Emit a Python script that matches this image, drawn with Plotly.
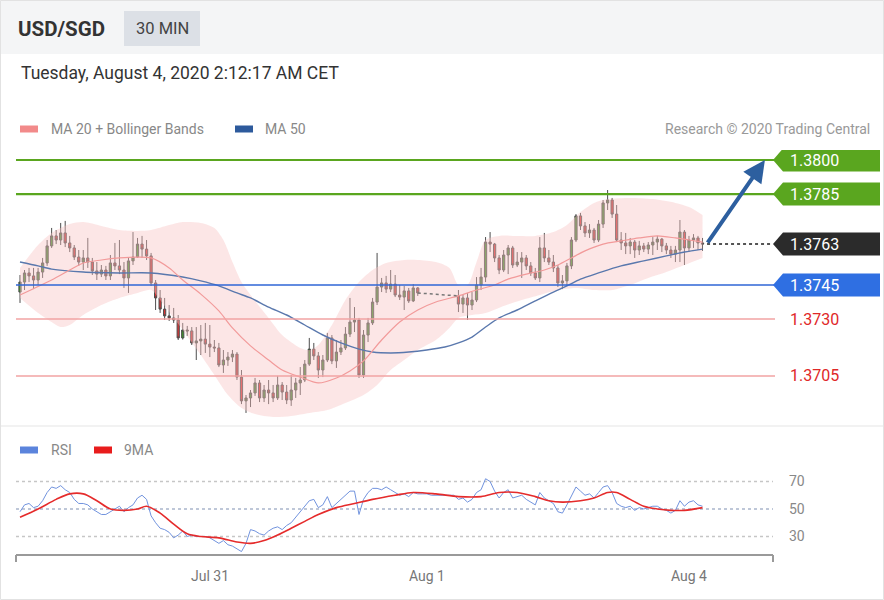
import plotly.graph_objects as go

W, H = 884, 600

# ---------------- data ----------------
session1_index = list(range(0, 89))
session2_index = list(range(97, 152))
candle_index = session1_index + session2_index

opens = [
    1.37419, 1.37463, 1.37503, 1.37490, 1.37472, 1.37507, 1.37547, 1.37622, 1.37666, 1.37648,
    1.37679, 1.37635, 1.37613, 1.37573, 1.37551, 1.37569, 1.37551, 1.37512, 1.37498, 1.37516,
    1.37490, 1.37547, 1.37534, 1.37516, 1.37481, 1.37556, 1.37573, 1.37630, 1.37608, 1.37578,
    1.37459, 1.37393, 1.37344, 1.37314, 1.37305, 1.37296, 1.37217, 1.37252, 1.37248, 1.37195,
    1.37204, 1.37212, 1.37190, 1.37177, 1.37173, 1.37098, 1.37120, 1.37133, 1.37146, 1.37045,
    1.36940, 1.36953, 1.36975, 1.37019, 1.36953, 1.36988, 1.36975, 1.36953, 1.37010, 1.36979,
    1.36944, 1.36988, 1.37019, 1.37032, 1.37102, 1.37168, 1.37138, 1.37076, 1.37120, 1.37217,
    1.37116, 1.37155, 1.37173, 1.37234, 1.37287, 1.37296, 1.37054, 1.37230, 1.37283, 1.37375,
    1.37441, 1.37459, 1.37432, 1.37454, 1.37406, 1.37397, 1.37424, 1.37380, 1.37437,
    1.37402, 1.37366, 1.37393, 1.37362, 1.37384, 1.37450, 1.37485, 1.37639, 1.37630, 1.37569,
    1.37516, 1.37582, 1.37613, 1.37538, 1.37551, 1.37569, 1.37534, 1.37503, 1.37481, 1.37613,
    1.37569, 1.37551, 1.37525, 1.37459, 1.37468, 1.37534, 1.37648, 1.37754, 1.37710, 1.37679,
    1.37692, 1.37648, 1.37718, 1.37811, 1.37824, 1.37762, 1.37648, 1.37635, 1.37622, 1.37639,
    1.37604, 1.37622, 1.37608, 1.37626, 1.37639, 1.37652, 1.37622, 1.37604, 1.37586, 1.37604,
    1.37683, 1.37613, 1.37648, 1.37657, 1.37635,
]
highs = [
    1.37494, 1.37516, 1.37525, 1.37525, 1.37525, 1.37569, 1.37648, 1.37701, 1.37692, 1.37723,
    1.37732, 1.37666, 1.37626, 1.37604, 1.37604, 1.37657, 1.37569, 1.37551, 1.37538, 1.37534,
    1.37582, 1.37635, 1.37648, 1.37551, 1.37573, 1.37683, 1.37657, 1.37666, 1.37648, 1.37591,
    1.37472, 1.37428, 1.37393, 1.37362, 1.37349, 1.37318, 1.37283, 1.37270, 1.37265, 1.37265,
    1.37274, 1.37283, 1.37274, 1.37208, 1.37195, 1.37164, 1.37155, 1.37164, 1.37155, 1.37076,
    1.36966, 1.36988, 1.37041, 1.37032, 1.37010, 1.37032, 1.37010, 1.37050, 1.37023, 1.37010,
    1.37054, 1.37041, 1.37089, 1.37120, 1.37217, 1.37195, 1.37155, 1.37142, 1.37239, 1.37230,
    1.37208, 1.37208, 1.37265, 1.37393, 1.37353, 1.37305, 1.37252, 1.37305, 1.37393, 1.37591,
    1.37481, 1.37490, 1.37516, 1.37494, 1.37450, 1.37446, 1.37437, 1.37454, 1.37441,
    1.37428, 1.37406, 1.37415, 1.37419, 1.37485, 1.37525, 1.37661, 1.37683, 1.37635, 1.37582,
    1.37604, 1.37626, 1.37622, 1.37595, 1.37595, 1.37582, 1.37551, 1.37525, 1.37661, 1.37679,
    1.37604, 1.37582, 1.37538, 1.37494, 1.37547, 1.37661, 1.37762, 1.37767, 1.37727, 1.37718,
    1.37701, 1.37736, 1.37824, 1.37868, 1.37833, 1.37802, 1.37683, 1.37679, 1.37657, 1.37648,
    1.37644, 1.37635, 1.37639, 1.37661, 1.37666, 1.37657, 1.37635, 1.37622, 1.37622, 1.37736,
    1.37692, 1.37666, 1.37674, 1.37666, 1.37657,
]
lows = [
    1.37371, 1.37428, 1.37463, 1.37432, 1.37450, 1.37481, 1.37534, 1.37613, 1.37630, 1.37626,
    1.37617, 1.37595, 1.37560, 1.37534, 1.37516, 1.37525, 1.37494, 1.37472, 1.37485, 1.37472,
    1.37472, 1.37516, 1.37498, 1.37437, 1.37415, 1.37538, 1.37569, 1.37569, 1.37560, 1.37446,
    1.37340, 1.37327, 1.37296, 1.37292, 1.37283, 1.37208, 1.37210, 1.37226, 1.37186, 1.37120,
    1.37142, 1.37151, 1.37133, 1.37155, 1.37089, 1.37063, 1.37094, 1.37111, 1.37032, 1.36926,
    1.36887, 1.36913, 1.36962, 1.36935, 1.36935, 1.36926, 1.36935, 1.36944, 1.36944, 1.36926,
    1.36918, 1.36953, 1.36966, 1.37023, 1.37094, 1.37120, 1.37041, 1.37045, 1.37111, 1.37102,
    1.37085, 1.37142, 1.37164, 1.37221, 1.37243, 1.37041, 1.37041, 1.37199, 1.37274, 1.37362,
    1.37419, 1.37415, 1.37419, 1.37397, 1.37384, 1.37340, 1.37371, 1.37375, 1.37402,
    1.37331, 1.37327, 1.37296, 1.37340, 1.37375, 1.37428, 1.37463, 1.37595, 1.37551, 1.37498,
    1.37507, 1.37498, 1.37525, 1.37529, 1.37481, 1.37516, 1.37490, 1.37472, 1.37463, 1.37551,
    1.37538, 1.37507, 1.37441, 1.37432, 1.37446, 1.37520, 1.37639, 1.37692, 1.37661, 1.37657,
    1.37635, 1.37639, 1.37701, 1.37780, 1.37745, 1.37639, 1.37604, 1.37586, 1.37586, 1.37569,
    1.37582, 1.37595, 1.37586, 1.37582, 1.37604, 1.37595, 1.37586, 1.37569, 1.37551, 1.37551,
    1.37538, 1.37595, 1.37613, 1.37604, 1.37600,
]
closes = [
    1.37463, 1.37503, 1.37490, 1.37472, 1.37507, 1.37547, 1.37622, 1.37666, 1.37648, 1.37679,
    1.37635, 1.37613, 1.37573, 1.37551, 1.37569, 1.37551, 1.37512, 1.37498, 1.37516, 1.37490,
    1.37547, 1.37534, 1.37516, 1.37481, 1.37556, 1.37573, 1.37630, 1.37608, 1.37578, 1.37459,
    1.37393, 1.37344, 1.37314, 1.37305, 1.37296, 1.37217, 1.37252, 1.37248, 1.37195, 1.37204,
    1.37212, 1.37190, 1.37177, 1.37173, 1.37098, 1.37120, 1.37133, 1.37146, 1.37045, 1.36940,
    1.36953, 1.36975, 1.37019, 1.36953, 1.36988, 1.36975, 1.36953, 1.37010, 1.36979, 1.36944,
    1.36988, 1.37019, 1.37032, 1.37102, 1.37168, 1.37138, 1.37076, 1.37120, 1.37217, 1.37116,
    1.37155, 1.37173, 1.37234, 1.37287, 1.37296, 1.37054, 1.37230, 1.37283, 1.37375, 1.37441,
    1.37459, 1.37432, 1.37454, 1.37406, 1.37397, 1.37424, 1.37380, 1.37437, 1.37415,
    1.37366, 1.37393, 1.37362, 1.37384, 1.37450, 1.37485, 1.37639, 1.37630, 1.37569, 1.37516,
    1.37582, 1.37613, 1.37538, 1.37551, 1.37569, 1.37534, 1.37503, 1.37481, 1.37613, 1.37569,
    1.37551, 1.37525, 1.37459, 1.37468, 1.37534, 1.37648, 1.37754, 1.37710, 1.37679, 1.37692,
    1.37648, 1.37718, 1.37811, 1.37824, 1.37762, 1.37648, 1.37635, 1.37622, 1.37639, 1.37604,
    1.37622, 1.37608, 1.37626, 1.37639, 1.37652, 1.37622, 1.37604, 1.37586, 1.37604, 1.37683,
    1.37613, 1.37648, 1.37657, 1.37635, 1.37630,
]

ma20_x = [0, 7, 11, 14, 18, 22, 26, 29, 33, 36, 40, 44, 47, 51, 55, 58, 62, 66, 70, 73, 76, 80,
          84, 88, 92, 97, 101, 105, 108, 112, 116, 119, 122, 125, 129, 133, 137, 141, 145, 148, 151]
ma20 = [1.37406, 1.37472, 1.37516, 1.37547, 1.37560, 1.37569, 1.37573, 1.37569, 1.37525, 1.37472,
        1.37410, 1.37336, 1.37261, 1.37182, 1.37120, 1.37076, 1.37045, 1.37019, 1.37041, 1.37072,
        1.37116, 1.37208, 1.37287, 1.37340, 1.37375, 1.37402, 1.37428, 1.37450, 1.37476, 1.37498,
        1.37516, 1.37538, 1.37569, 1.37600, 1.37630, 1.37644, 1.37657, 1.37666, 1.37657, 1.37648,
        1.37639]

bb_upper_x = [0, 4, 7, 11, 14, 18, 22, 26, 29, 33, 36, 40, 43, 45, 47, 49, 51, 55, 58, 62, 64, 66,
              69, 72, 75, 78, 81, 85, 88, 92, 95, 97, 99, 101, 103, 106, 110, 114, 118, 121, 124,
              127, 130, 135, 140, 145, 148, 151]
bb_upper = [1.37525, 1.37626, 1.37679, 1.37718, 1.37727, 1.37710, 1.37692, 1.37688, 1.37692,
            1.37714, 1.37727, 1.37723, 1.37701, 1.37648, 1.37551, 1.37463, 1.37406, 1.37305,
            1.37230, 1.37173, 1.37164, 1.37186, 1.37274, 1.37384, 1.37463, 1.37516, 1.37547,
            1.37560, 1.37560, 1.37551, 1.37525, 1.37450, 1.37450, 1.37551, 1.37648, 1.37666,
            1.37666, 1.37666, 1.37683, 1.37714, 1.37771, 1.37811, 1.37828, 1.37833, 1.37828,
            1.37811, 1.37793, 1.37758]

bb_lower_x = [0, 4, 7, 9, 11, 14, 18, 22, 26, 29, 31, 33, 36, 40, 43, 46, 49, 52, 56, 60, 64, 68,
              72, 76, 79, 82, 85, 88, 92, 95, 97, 100, 103, 107, 111, 115, 119, 123, 127, 131,
              135, 139, 143, 147, 151]
bb_lower = [1.37393, 1.37327, 1.37287, 1.37265, 1.37274, 1.37318, 1.37362, 1.37393, 1.37415,
            1.37428, 1.37384, 1.37331, 1.37252, 1.37142, 1.37054, 1.36966, 1.36909, 1.36882,
            1.36869, 1.36874, 1.36887, 1.36900, 1.36931, 1.36966, 1.37010, 1.37076, 1.37120,
            1.37164, 1.37208, 1.37261, 1.37305, 1.37318, 1.37327, 1.37358, 1.37384, 1.37406,
            1.37428, 1.37437, 1.37428, 1.37428, 1.37450, 1.37481, 1.37507, 1.37538, 1.37569]

ma50_x = [0, 4, 7, 14, 22, 29, 36, 40, 44, 48, 51, 55, 59, 63, 67, 71, 75, 78, 82, 86, 90, 94,
          97, 100, 103, 106, 110, 114, 118, 121, 124, 128, 133, 138, 143, 147, 151]
ma50 = [1.37551, 1.37534, 1.37520, 1.37507, 1.37503, 1.37503, 1.37485, 1.37468, 1.37446, 1.37415,
        1.37393, 1.37353, 1.37318, 1.37274, 1.37230, 1.37195, 1.37168, 1.37155, 1.37151, 1.37155,
        1.37164, 1.37177, 1.37195, 1.37221, 1.37265, 1.37305, 1.37340, 1.37380, 1.37419, 1.37446,
        1.37476, 1.37503, 1.37534, 1.37556, 1.37578, 1.37595, 1.37608]

rsi_index = list(range(0, 152))
rsi = [
    48, 53, 54, 51, 52, 56, 62, 66, 65, 67,
    64, 62, 57, 54, 54, 53, 50, 48, 46, 46,
    48, 50, 52, 48, 51, 53, 58, 60, 57, 45,
    40, 36, 35, 33, 29, 31, 34, 30, 31, 30,
    30, 30, 29, 27, 25, 27, 24, 23, 21, 19,
    25, 35, 34, 32, 31, 34, 36, 37, 35, 38,
    40, 44, 48, 52, 56, 57, 51, 53, 59, 51,
    54, 57, 60, 63, 63, 46, 57, 62, 65, 65,
    64, 66, 64, 62, 60, 61, 59, 62, 61, 61,
    61, 60, 60, 60, 60, 60, 60, 57, 58, 55,
    57, 62, 64, 72, 70, 63, 58, 62, 64, 58,
    59, 60, 57, 55, 53, 62, 58, 56, 54, 48,
    47, 53, 60, 66, 63, 60, 61, 58, 62, 66,
    67, 62, 54, 52, 51, 52, 49, 51, 50, 51,
    52, 52, 50, 49, 47, 49, 56, 52, 55, 56,
    53, 52,
]
rsi_ma_x = [0, 4, 8, 11, 14, 17, 20, 23, 26, 28, 31, 34, 37, 40, 44, 48, 51, 54, 57, 60, 63, 66,
            70, 74, 78, 83, 87, 92, 97, 102, 106, 110, 114, 117, 120, 124, 127, 130, 132, 135,
            138, 141, 144, 147, 151]
rsi_ma = [44, 50, 57, 61, 61, 56, 50, 49, 50, 52, 47, 39, 32, 30, 29, 26, 25, 27, 31, 36, 41, 46,
          51, 54, 57, 60, 62, 61, 59, 59, 62, 62, 59, 56, 55, 56, 58, 62, 62, 57, 52, 50, 49, 49,
          51]

tick_pos = [42, 90, 148]
tick_labels = ["Jul 31", "Aug 1", "Aug 4"]

resistances = [1.3800, 1.3785]
last_price = 1.3763
pivot = 1.3745
supports = [1.3730, 1.3705]
rsi_levels = [70, 50, 30]

# ---------------- layout helpers ----------------
FONT = "Roboto, Arial, sans-serif"
X_RANGE = [-0.885, 166.59]
Y_RANGE = [1.36856, 1.38044]      # pixel 420 .. 150
RSI_RANGE = [18.7, 82.0]          # pixel 552 .. 465
PX_PRICE = (Y_RANGE[1] - Y_RANGE[0]) / 270.0


def px(x):
    return x / W


def py(y):
    return 1 - y / H


fig = go.Figure()

# Bollinger band fill
fig.add_trace(go.Scatter(x=bb_upper_x, y=bb_upper, mode="lines",
                         line=dict(width=0, color="rgba(0,0,0,0)", shape="spline", smoothing=0.8),
                         hoverinfo="skip"))
fig.add_trace(go.Scatter(x=bb_lower_x, y=bb_lower, mode="lines", fill="tonexty",
                         fillcolor="rgba(249,196,196,0.42)",
                         line=dict(width=0, color="rgba(0,0,0,0)", shape="spline", smoothing=0.8),
                         hoverinfo="skip"))
# MA50, MA20
fig.add_trace(go.Scatter(x=ma50_x, y=ma50, mode="lines",
                         line=dict(width=1.4, color="#5a78ad", shape="spline", smoothing=0.8)))
fig.add_trace(go.Scatter(x=ma20_x, y=ma20, mode="lines",
                         line=dict(width=1.2, color="#f29a9a", shape="spline", smoothing=0.8)))

# weekend gap dotted connector
fig.add_trace(go.Scatter(x=[session1_index[-1], session2_index[0]],
                         y=[closes[len(session1_index) - 1], opens[len(session1_index)]],
                         mode="lines", line=dict(width=1.5, color="#777", dash="dot")))

# candles
fig.add_trace(go.Candlestick(
    x=candle_index, open=opens, high=highs, low=lows, close=closes,
    increasing=dict(line=dict(color="#4d4d4d", width=1), fillcolor="#3f8f2c"),
    decreasing=dict(line=dict(color="#4d4d4d", width=1), fillcolor="#d93434"),
    whiskerwidth=0, hoverinfo="skip"))

# RSI panel
fig.add_trace(go.Scatter(x=rsi_index, y=rsi, mode="lines", xaxis="x2", yaxis="y2",
                         line=dict(width=1, color="#7193de")))
fig.add_trace(go.Scatter(x=rsi_ma_x, y=rsi_ma, mode="lines", xaxis="x2", yaxis="y2",
                         line=dict(width=1.6, color="#e52b2b", shape="spline", smoothing=0.9)))

shapes = []
ann = []

# frame / header
shapes.append(dict(type="rect", xref="paper", yref="paper", x0=0, x1=1, y0=py(54), y1=1,
                   fillcolor="#f4f5f6", line=dict(width=0), layer="below"))
shapes.append(dict(type="rect", xref="paper", yref="paper", x0=px(124), x1=px(200), y0=py(46), y1=py(11),
                   fillcolor="#dce0e6", line=dict(width=0), layer="below"))
shapes.append(dict(type="line", xref="paper", yref="paper", x0=0, x1=1, y0=py(426), y1=py(426),
                   line=dict(color="#e6e6e6", width=1.2)))
shapes.append(dict(type="rect", xref="paper", yref="paper", x0=px(0.5), x1=px(883.5), y0=py(599.5), y1=py(0.5),
                   line=dict(color="#e2e2e2", width=1)))

ann.append(dict(x=px(16), y=py(29), xref="paper", yref="paper", xanchor="left", yanchor="middle",
                text="<b>USD/SGD</b>", showarrow=False, font=dict(size=20.5, color="#333", family=FONT)))
ann.append(dict(x=px(162), y=py(28.5), xref="paper", yref="paper", xanchor="center", yanchor="middle",
                text="30 MIN", showarrow=False, font=dict(size=16.5, color="#444", family=FONT)))
ann.append(dict(x=px(19), y=py(73), xref="paper", yref="paper", xanchor="left", yanchor="middle",
                text="Tuesday, August 4, 2020 2:12:17 AM CET", showarrow=False,
                font=dict(size=17.5, color="#333", family=FONT)))

# legends
def legend_item(x_rect, y, color, label, x_text):
    shapes.append(dict(type="rect", xref="paper", yref="paper", x0=px(x_rect), x1=px(x_rect + 18),
                       y0=py(y + 3.5), y1=py(y - 3.5), fillcolor=color, line=dict(width=0)))
    ann.append(dict(x=px(x_text), y=py(y), xref="paper", yref="paper", xanchor="left", yanchor="middle",
                    text=label, showarrow=False, font=dict(size=14, color="#888", family=FONT)))


legend_item(20, 129, "#f28a8a", "MA 20 + Bollinger Bands", 49)
legend_item(235, 129, "#2d5a9c", "MA 50", 263)
legend_item(20, 450, "#5b84dc", "RSI", 49)
legend_item(94, 450, "#e81c1c", "9MA", 122)
ann.append(dict(x=px(872), y=py(129), xref="paper", yref="paper", xanchor="right", yanchor="middle",
                text="Research © 2020 Trading Central", showarrow=False,
                font=dict(size=14, color="#999", family=FONT)))

# level lines and labels
LX0, LX1 = px(16), px(775)


def level_line(level, color, width):
    shapes.append(dict(type="line", xref="paper", yref="y", x0=LX0, x1=LX1, y0=level, y1=level,
                       line=dict(color=color, width=width), layer="above"))


def level_box(level, color):
    h = 11.5 * PX_PRICE
    a, b, c = px(773), px(783), px(880)
    path = (f"M {a},{level} L {b},{level + h} L {c},{level + h} "
            f"L {c},{level - h} L {b},{level - h} Z")
    shapes.append(dict(type="path", xref="paper", yref="y", path=path, fillcolor=color,
                       line=dict(width=0)))
    ann.append(dict(x=px(788), y=level, xref="paper", yref="y", xanchor="left", yanchor="middle",
                    text=f"{level:.4f}", showarrow=False, font=dict(size=16, color="white", family=FONT)))


GREEN = "#5aa61f"
for lv in resistances:
    level_line(lv, GREEN, 2.2)
    level_box(lv, GREEN)

level_line(pivot, "#2f66d6", 1.5)
level_box(pivot, "#2f6fe2")

for lv in supports:
    level_line(lv, "#f2a3a3", 1.5)
    ann.append(dict(x=px(788), y=lv, xref="paper", yref="y", xanchor="left", yanchor="middle",
                    text=f"{lv:.4f}", showarrow=False, font=dict(size=16, color="#e02828", family=FONT)))

# last price dotted line + box
shapes.append(dict(type="line", xref="x", yref="y", x0=candle_index[-1] + 1, x1=X_RANGE[1],
                   y0=last_price, y1=last_price, line=dict(color="#555", width=2, dash="dot")))
level_box(last_price, "#2b2b2b")

# forecast arrow
ann.append(dict(x=candle_index[-1] + 13.8, y=resistances[0], ax=candle_index[-1] + 0.9, ay=last_price,
                xref="x", yref="y", axref="x", ayref="y", text="", showarrow=True,
                arrowhead=2, arrowsize=1.1, arrowwidth=4, arrowcolor="#2d5f9f", standoff=0))

# RSI grid lines & labels
for lv in rsi_levels:
    shapes.append(dict(type="line", xref="paper", yref="y2", x0=px(16), x1=px(773), y0=lv, y1=lv,
                       line=dict(color="#a9b5cc" if lv == 50 else "#c6c6c6", width=1.5, dash="dot"),
                       layer="below"))
    ann.append(dict(x=px(797), y=lv, xref="paper", yref="y2", xanchor="center", yanchor="middle",
                    text=str(lv), showarrow=False, font=dict(size=14, color="#888", family=FONT)))

# bottom time axis
shapes.append(dict(type="line", xref="paper", yref="paper", x0=px(16), x1=px(773), y0=py(555), y1=py(555),
                   line=dict(color="#9a9a9a", width=2)))
for xe in (16, 773):
    shapes.append(dict(type="line", xref="paper", yref="paper", x0=px(xe), x1=px(xe), y0=py(555), y1=py(562),
                       line=dict(color="#9a9a9a", width=2)))
for tp, tl in zip(tick_pos, tick_labels):
    ann.append(dict(x=tp, y=py(576), xref="x2", yref="paper", xanchor="center", yanchor="middle",
                    text=tl, showarrow=False, font=dict(size=14, color="#777", family=FONT)))

fig.update_layout(
    width=W, height=H, margin=dict(l=0, r=0, t=0, b=0),
    paper_bgcolor="white", plot_bgcolor="rgba(0,0,0,0)",
    showlegend=False, hovermode=False,
    font=dict(family=FONT),
    xaxis=dict(domain=[px(16), px(773)], range=X_RANGE, visible=False, anchor="y",
               rangeslider=dict(visible=False), fixedrange=True),
    yaxis=dict(domain=[py(420), py(150)], range=Y_RANGE, visible=False, fixedrange=True),
    xaxis2=dict(domain=[px(16), px(773)], range=X_RANGE, visible=False, anchor="y2", fixedrange=True),
    yaxis2=dict(domain=[py(552), py(465)], range=RSI_RANGE, visible=False, fixedrange=True),
    shapes=shapes, annotations=ann,
)

fig.write_html(
    "out.html",
    config={"displayModeBar": False},
    post_script="document.body.style.margin='0';document.body.style.overflow='hidden';",
)
